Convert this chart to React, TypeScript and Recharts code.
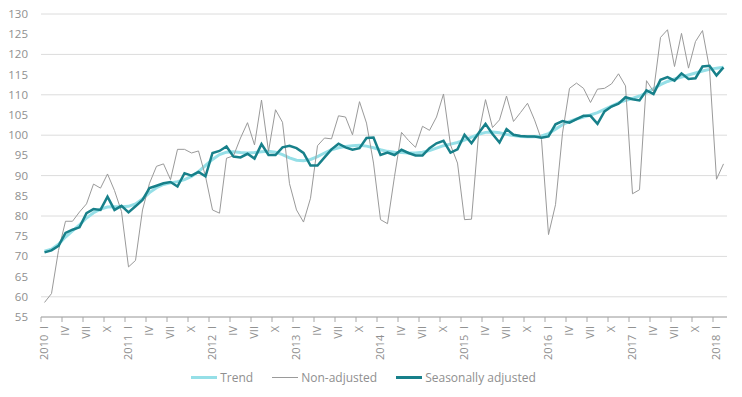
import React from 'react';
import { LineChart, Line, XAxis, YAxis, CartesianGrid, Legend } from 'recharts';

// monthly series, 2010 I .. 2018 II
const years = [2010, 2011, 2012, 2013, 2014, 2015, 2016, 2017, 2018];
const quarterMonths = ['I', 'IV', 'VII', 'X'];
const yTicks = [55, 60, 65, 70, 75, 80, 85, 90, 95, 100, 105, 110, 115, 120, 125, 130];

const trend = [
  71.3, 71.8, 73.0, 74.8, 76.3, 77.8, 79.5, 80.8, 81.7, 82.2, 82.3, 82.3,
  82.4, 83.0, 84.2, 85.8, 87.0, 87.8, 88.2, 88.5, 89.0, 89.8, 91.0, 92.5,
  94.0, 95.2, 95.8, 95.9, 95.7, 95.6, 95.7, 95.9, 96.0, 95.8, 95.2, 94.4,
  93.8, 93.7, 94.0, 94.7, 95.6, 96.4, 96.9, 97.2, 97.4, 97.5, 97.3, 96.9,
  96.4, 96.0, 95.8, 95.7, 95.6, 95.6, 95.8, 96.2, 96.8, 97.4, 97.8, 98.2,
  98.8, 99.5, 100.2, 100.7, 100.8, 100.6, 100.2, 99.9, 99.7, 99.6, 99.6, 99.8,
  100.4, 101.5, 102.6, 103.4, 104.0, 104.5, 105.0, 105.6, 106.4, 107.2, 108.0, 108.6,
  109.1, 109.7, 110.5, 111.5, 112.5, 113.3, 113.9, 114.4, 114.9, 115.4, 115.9, 116.3,
  116.6, 116.8,
];

const nonAdjusted = [
  58.6, 60.8, 71.5, 78.7, 78.7, 81.0, 83.0, 87.9, 86.9, 90.4, 86.3, 81.1,
  67.4, 69.0, 81.5, 88.1, 92.3, 92.9, 89.0, 96.5, 96.5, 95.6, 96.1, 89.8,
  81.5, 80.7, 94.3, 94.9, 99.3, 103.1, 97.6, 108.7, 96.0, 106.3, 103.2, 88.0,
  81.5, 78.5, 84.4, 97.4, 99.3, 99.1, 104.8, 104.5, 100.1, 108.3, 103.0, 93.1,
  79.1, 78.1, 89.8, 100.7, 98.7, 97.0, 102.2, 101.2, 104.5, 110.2, 97.6, 93.1,
  79.1, 79.2, 100.1, 108.8, 101.9, 103.8, 109.7, 103.4, 105.6, 107.9, 103.8, 98.9,
  75.4, 82.8, 100.5, 111.6, 112.9, 111.6, 108.1, 111.4, 111.6, 112.7, 115.2, 112.2,
  85.5, 86.5, 113.5, 110.8, 124.2, 126.1, 117.0, 125.2, 116.6, 123.2, 125.9, 116.5,
  89.1, 92.9,
];

const seasonallyAdjusted = [
  71.0, 71.5, 72.6, 75.8, 76.6, 77.2, 80.7, 81.7, 81.5, 84.8, 81.5, 82.5,
  80.9, 82.4, 84.0, 86.9, 87.5, 88.1, 88.4, 87.3, 90.6, 90.0, 90.9, 89.8,
  95.6, 96.1, 97.2, 94.7, 94.5, 95.4, 94.2, 97.8, 95.1, 95.1, 97.0, 97.4,
  96.8, 95.6, 92.5, 92.5, 94.5, 96.5, 97.9, 97.0, 96.4, 96.8, 99.3, 99.4,
  95.1, 95.7, 95.1, 96.4, 95.6, 95.0, 95.0, 96.8, 98.0, 98.6, 95.7, 96.5,
  100.1, 98.0, 100.5, 102.8, 100.3, 98.2, 101.5, 100.1, 99.8, 99.7, 99.7, 99.4,
  99.7, 102.7, 103.5, 103.1, 104.0, 104.8, 104.8, 102.8, 105.9, 107.1, 107.8, 109.4,
  108.9, 108.6, 111.1, 110.2, 113.7, 114.4, 113.5, 115.3, 113.9, 114.1, 117.0, 117.2,
  114.8, 116.8,
];

const data = trend.map((t, i) => ({
  month: `${years[Math.floor(i / 12)]}-${(i % 12) + 1}`,
  trend: t,
  nonAdjusted: nonAdjusted[i],
  seasonal: seasonallyAdjusted[i],
}));

const FONT = '"Open Sans", "Noto Sans", sans-serif';
const TEXT = '#8f8f8f';
const HALF_STEP = 3.5;

const MonthTick = (props: any) => {
  const { x, y, payload } = props;
  const [yr, m] = String(payload.value).split('-');
  const mi = Number(m) - 1;
  const label = mi === 0 ? `${yr}  I` : quarterMonths[mi / 3];
  return (
    <g>
      <line x1={x - HALF_STEP} x2={x - HALF_STEP} y1={y - 8} y2={y - 3} stroke="#a6a6a6" />
      <text
        x={x}
        y={y + 1}
        dy="0.35em"
        transform={`rotate(-90, ${x}, ${y + 1})`}
        textAnchor="end"
        fill={TEXT}
        fontSize={11}
        fontFamily={FONT}
        style={{ whiteSpace: 'pre' }}
      >
        {label}
      </text>
    </g>
  );
};

const legendItems = [
  { label: 'Trend', color: '#95dfe7', width: 3 },
  { label: 'Non-adjusted', color: '#9a9a9a', width: 1 },
  { label: 'Seasonally adjusted', color: '#17808a', width: 3 },
];

const ChartLegend = () => (
  <div style={{ height: 40, display: 'flex', alignItems: 'center', justifyContent: 'center', gap: 19 }}>
    {legendItems.map((it) => (
      <div key={it.label} style={{ display: 'flex', alignItems: 'center' }}>
        <span style={{ display: 'inline-block', width: 26, height: it.width, background: it.color, marginRight: 3 }} />
        <span style={{ fontFamily: FONT, fontSize: 12, color: TEXT }}>{it.label}</span>
      </div>
    ))}
  </div>
);

export default function App() {
  return (
    <div style={{ position: 'fixed', left: 0, top: 0, width: 742, height: 397, background: '#fff' }}>
      <LineChart width={742} height={397} data={data} margin={{ top: 14, right: 15, left: 0, bottom: 0 }}>
        <CartesianGrid vertical={false} stroke="#dcdcdc" />
        <XAxis
          dataKey="month"
          interval={2}
          height={40}
          padding={{ left: HALF_STEP, right: HALF_STEP }}
          tickLine={false}
          axisLine={{ stroke: '#a6a6a6' }}
          tick={<MonthTick />}
        />
        <YAxis
          domain={[55, 130]}
          ticks={yTicks}
          width={41}
          axisLine={false}
          tickLine={false}
          tickMargin={7}
          tick={{ fill: TEXT, fontSize: 11.5, fontFamily: FONT }}
        />
        <Legend verticalAlign="bottom" align="center" content={<ChartLegend />} />
        <Line type="linear" dataKey="trend" stroke="#95dfe7" strokeWidth={3} dot={false} isAnimationActive={false} />
        <Line type="linear" dataKey="nonAdjusted" stroke="#9a9a9a" strokeWidth={1} dot={false} isAnimationActive={false} />
        <Line type="linear" dataKey="seasonal" stroke="#17808a" strokeWidth={2.5} dot={false} isAnimationActive={false} />
      </LineChart>
    </div>
  );
}
